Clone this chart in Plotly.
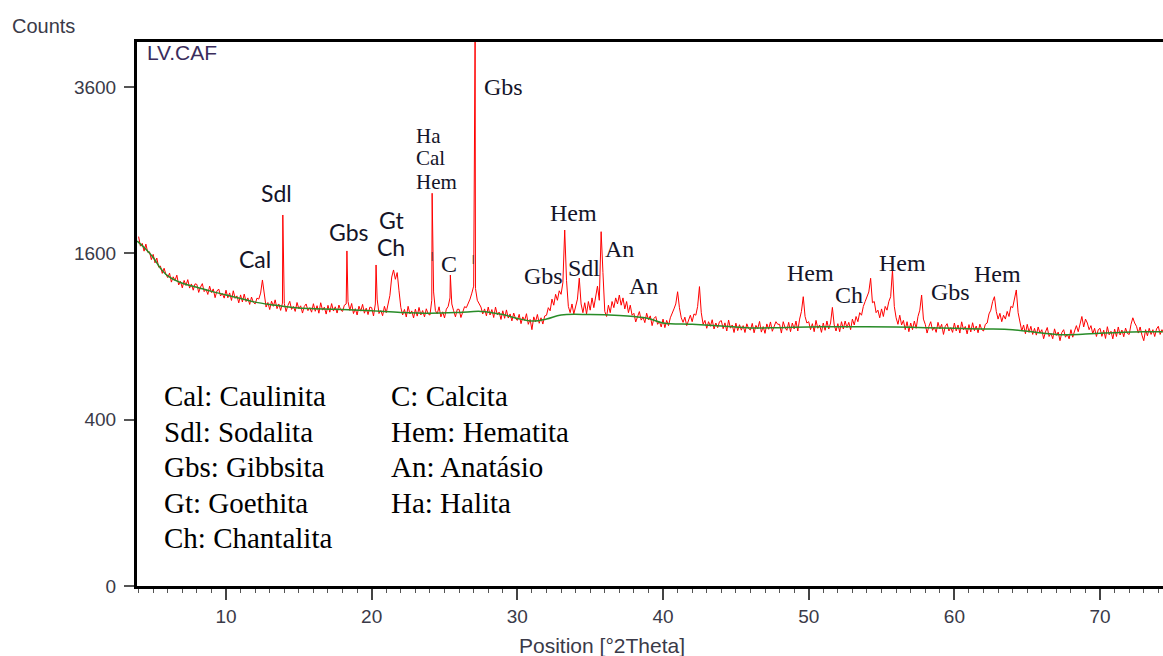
import numpy as np
import plotly.graph_objects as go

# ---------------- data ----------------
# measured pattern on a 0.125 degree grid starting at 4.0 deg (counts)
grid_start = 4.0
grid_step = 0.125
grid_counts = [
    1765, 1670, 1697, 1621, 1690, 1610, 1615, 1540, 1590, 1510, 1555, 1470, 1480, 1413, 1460, 1403,  # 4
    1375, 1415, 1335, 1382, 1350, 1397, 1310, 1342, 1285, 1350, 1306, 1357, 1283, 1319, 1265, 1320,  # 6
    1315, 1246, 1292, 1322, 1253, 1274, 1229, 1300, 1245, 1276, 1202, 1258, 1275, 1216, 1237, 1198,  # 8
    1265, 1201, 1242, 1179, 1260, 1196, 1217, 1159, 1225, 1166, 1232, 1169, 1200, 1146, 1207, 1164,  # 10
    1150, 1198, 1190, 1240, 1354, 1235, 1125, 1162, 1105, 1173, 1131, 1184, 1112, 1150, 1098, 1157,  # 12
    1155, 1089, 1138, 1172, 1106, 1130, 1090, 1162, 1112, 1135, 1077, 1130, 1150, 1096, 1120, 1084,  # 14
    1152, 1091, 1136, 1076, 1160, 1100, 1124, 1069, 1139, 1084, 1153, 1093, 1127, 1077, 1141, 1101,  # 16
    1090, 1140, 1150, 1170, 1098, 1154, 1073, 1112, 1062, 1132, 1092, 1147, 1076, 1116, 1065, 1125,  # 18
    1120, 1054, 1150, 1190, 1073, 1097, 1056, 1131, 1080, 1140, 1220, 1380, 1444, 1360, 1420, 1260,  # 20
    1122, 1062, 1106, 1046, 1131, 1070, 1094, 1039, 1108, 1053, 1122, 1062, 1097, 1047, 1111, 1071,  # 22
    1061, 1180, 1250, 1096, 1071, 1127, 1047, 1087, 1039, 1108, 1130, 1200, 1150, 1095, 1047, 1107,  # 24
    1107, 1042, 1093, 1128, 1120, 1150, 1190, 1240, 1300, 1280, 1180, 1150, 1125, 1070, 1110, 1055,  # 26
    1125, 1062, 1105, 1042, 1125, 1063, 1085, 1027, 1095, 1036, 1102, 1038, 1070, 1016, 1077, 1033,  # 28
    1020, 1067, 995, 1047, 1020, 1072, 990, 1027, 950, 1047, 1009, 1066, 998, 1040, 992, 1054,       # 30
    1060, 1120, 1095, 1190, 1140, 1230, 1180, 1260, 1230, 1330, 1832, 1350, 1130, 1080, 1150, 1070,  # 32
    1120, 1190, 1370, 1150, 1080, 1160, 1070, 1170, 1100, 1200, 1120, 1230, 1300, 1180, 1815, 1420,  # 34
    1090, 1050, 1140, 1080, 1170, 1120, 1200, 1150, 1224, 1140, 1200, 1110, 1170, 1080, 1140, 1060,  # 36
    1075, 1008, 1056, 1089, 1022, 1045, 1003, 1076, 1025, 1055, 980, 1035, 1050, 990, 1010, 970,     # 38
    1030, 965, 1020, 980, 1040, 1070, 1110, 1150, 1252, 1120, 1040, 1005, 1045, 980, 1030, 1060,     # 40
    1010, 1070, 1060, 1130, 1296, 1080, 990, 1020, 960, 1010, 975, 1025, 955, 1000, 965, 1010,       # 42
    1018, 957, 1001, 940, 1023, 961, 985, 929, 999, 943, 987, 946, 980, 929, 994, 958,               # 44
    947, 997, 927, 982, 957, 1012, 932, 973, 923, 993, 953, 1008, 938, 978, 1010, 990,               # 46
    990, 925, 1010, 965, 945, 1005, 935, 1000, 955, 1015, 940, 1030, 1090, 1210, 1050, 1000,         # 48
    1010, 950, 995, 935, 1020, 960, 985, 930, 1000, 945, 1015, 955, 1000, 1122, 985, 940,            # 50
    995, 935, 1010, 955, 1015, 965, 1005, 950, 1030, 985, 1050, 1010, 1080, 1060, 1130, 1170,        # 52
    1220, 1250, 1369, 1160, 1170, 1080, 1100, 1040, 1110, 1050, 1130, 1100, 1170, 1210, 1444, 1130,  # 54
    1040, 990, 1060, 985, 1020, 950, 1010, 935, 1000, 950, 1015, 960, 1050, 1100, 1224, 1030,        # 56
    990, 925, 975, 1010, 945, 970, 930, 1005, 955, 990, 915, 975, 995, 940, 965, 930,                # 58
    1000, 940, 985, 925, 1009, 949, 974, 919, 988, 933, 1002, 942, 977, 927, 991, 951,               # 60
    940, 990, 1000, 1070, 1100, 1170, 1210, 1090, 1030, 1075, 1010, 1060, 1030, 1090, 1050, 1130,    # 62
    1120, 1210, 1267, 1080, 1000, 940, 985, 920, 990, 930, 975, 915, 960, 910, 970, 925,             # 64
    950, 884, 932, 966, 900, 924, 884, 956, 908, 932, 870, 929, 950, 895, 918, 883,                  # 66
    950, 895, 940, 980, 935, 1000, 1050, 970, 1030, 1000, 950, 980, 920, 960, 900, 950,              # 68
    960, 901, 946, 886, 972, 912, 938, 883, 954, 900, 970, 911, 947, 898, 962, 922,                  # 70
    915, 990, 1040, 1000, 975, 925, 970, 910, 870, 950, 905, 960, 915, 950, 900, 955,                # 72
    975, 915, 950, 920,                                                                              # 74
]

# sharp reflections lying between grid points
peak_pos = [13.9, 18.3, 20.3, 24.15, 25.4, 27.1]
peak_counts = [1990, 1623, 1490, 2230, 1398, 4500]

# fitted background (green)
bg_pos = [3.9, 4.5, 5.0, 5.5, 6.0, 7.0, 8.0, 9.0, 10.0, 11.0, 12.0, 13.0, 14.0, 15.0,
          16.0, 18.0, 20.0, 22.0, 24.0, 26.0, 27.5, 29.0, 30.0, 31.0, 32.0, 33.0, 35.0,
          37.0, 38.0, 39.0, 40.0, 42.0, 44.0, 46.0, 48.0, 50.0, 52.0, 54.0, 56.0, 58.0,
          60.0, 62.0, 64.0, 66.0, 67.5, 69.0, 71.0, 73.0, 74.3]
bg_counts = [1720, 1640, 1560, 1460, 1390, 1325, 1290, 1255, 1225, 1195, 1165, 1145, 1130, 1118,
             1112, 1105, 1095, 1082, 1076, 1082, 1090, 1065, 1035, 1015, 1030, 1062, 1065,
             1058, 1050, 1035, 1000, 990, 978, 962, 965, 970, 972, 972, 970, 965,
             960, 955, 950, 925, 912, 918, 928, 935, 935]

y_tick_counts = [0, 400, 1600, 3600]
x_tick_vals = [10, 20, 30, 40, 50, 60, 70]

legend_left = ["Cal: Caulinita", "Sdl: Sodalita", "Gbs: Gibbsita", "Gt: Goethita", "Ch: Chantalita"]
legend_right = ["C: Calcita", "Hem: Hematita", "An: Anatásio", "Ha: Halita"]

# ---------------- build pattern ----------------
grid_pos = [grid_start + grid_step * i for i in range(len(grid_counts))]
all_pos = np.array(grid_pos + peak_pos)
all_cnt = np.array(grid_counts + peak_counts, dtype=float)
order = np.argsort(all_pos)
pos = all_pos[order]
cnt = all_cnt[order]

# square-root intensity scale
X_MIN, X_MAX = 3.89, 74.32
Y_MAX = 65.41

fig = go.Figure()
fig.add_trace(go.Scatter(x=pos, y=np.sqrt(cnt), mode="lines",
                         line=dict(color="rgb(255,0,0)", width=1),
                         hoverinfo="skip", showlegend=False))
fig.add_trace(go.Scatter(x=bg_pos, y=np.sqrt(bg_counts), mode="lines",
                         line=dict(color="rgb(40,140,40)", width=1.5, shape="spline"),
                         hoverinfo="skip", showlegend=False))

# pixel helpers for text placement
L, T, B, W = 137, 42, 586, 1163
def px2x(px):
    return X_MIN + (px - L) * (X_MAX - X_MIN) / (W - L)
def py2y(py):
    return (B - py) * Y_MAX / (B - T)

SERIF = "Liberation Serif, Times New Roman, serif"
SANS = "Lato, Carlito, Calibri, sans-serif"
TXT = "#141428"

def label(text, px, py, fam, size, anchor="center", color=TXT):
    fig.add_annotation(x=px2x(px), y=py2y(py), text=text, showarrow=False,
                       xanchor=anchor, yanchor="middle",
                       font=dict(family=fam, size=size, color=color))

# peak labels
label("Cal", 255, 259, SANS, 23)
label("Sdl", 276, 193, SANS, 23)
label("Gbs", 349, 232, SANS, 23)
label("Gt", 391, 220, SANS, 23)
label("Ch", 391, 247, SANS, 23)
label("Ha", 414, 136, SERIF, 21, "left")
label("Cal", 414, 158, SERIF, 21, "left")
label("Hem", 414, 182, SERIF, 21, "left")
label("C", 449, 264, SERIF, 24)
label("Gbs", 503, 87, SERIF, 24)
label("Gbs", 543, 276, SERIF, 24)
label("Hem", 573, 213, SERIF, 24)
label("Sdl", 584, 268, SERIF, 24)
label("An", 619, 249, SERIF, 24)
label("An", 643, 286, SERIF, 24)
label("Hem", 810, 273, SERIF, 24)
label("Ch", 849, 295, SERIF, 24)
label("Hem", 902, 263, SERIF, 24)
label("Gbs", 950, 292, SERIF, 24)
label("Hem", 997, 274, SERIF, 24)
label("|", 432, 255, SERIF, 11, color="#000000")
label("|", 473, 258, SERIF, 11, color="#000000")

# legend blocks
for i, t in enumerate(legend_left):
    label(t, 162, 396 + i * 35.5, SERIF, 29, "left", "#000000")
for i, t in enumerate(legend_right):
    label(t, 389, 396 + i * 35.5, SERIF, 29, "left", "#000000")

AX = "Liberation Sans, Arial, sans-serif"
AXC = "#3a3a48"
label("LV.CAF", 145, 52, AX, 21, "left", "#3a2c5c")

fig.add_annotation(xref="paper", yref="paper", x=(10 - L) / (W - L), y=(B - 26) / (B - T),
                   text="Counts", showarrow=False, xanchor="left", yanchor="middle",
                   font=dict(family=AX, size=20, color=AXC))
fig.add_annotation(xref="paper", yref="paper", x=(602 - L) / (W - L), y=(B - 645) / (B - T),
                   text="Position [°2Theta]", showarrow=False, xanchor="center", yanchor="middle",
                   font=dict(family=AX, size=21, color=AXC))

fig.update_layout(
    width=1163, height=656,
    margin=dict(l=L, r=0, t=T, b=656 - B),
    paper_bgcolor="white", plot_bgcolor="white",
    showlegend=False,
)
fig.update_xaxes(range=[X_MIN, X_MAX], tickvals=x_tick_vals, showgrid=False, zeroline=False,
                 showline=True, linecolor="black", linewidth=3, mirror=True,
                 ticks="outside", ticklen=11, tickwidth=2, tickcolor="#444",
                 tickfont=dict(family=AX, size=19, color=AXC),
                 minor=dict(dtick=1, tick0=0, ticks="outside", ticklen=4, tickwidth=1, tickcolor="#555"))
fig.update_yaxes(range=[0, Y_MAX], tickvals=[np.sqrt(v) for v in y_tick_counts],
                 ticktext=[str(v) for v in y_tick_counts], showgrid=False, zeroline=False,
                 showline=True, linecolor="black", linewidth=3, mirror=False,
                 ticks="outside", ticklen=10, tickwidth=2, tickcolor="#555",
                 tickfont=dict(family=AX, size=19, color=AXC), ticklabelstandoff=4)

fig.write_html("out.html")
